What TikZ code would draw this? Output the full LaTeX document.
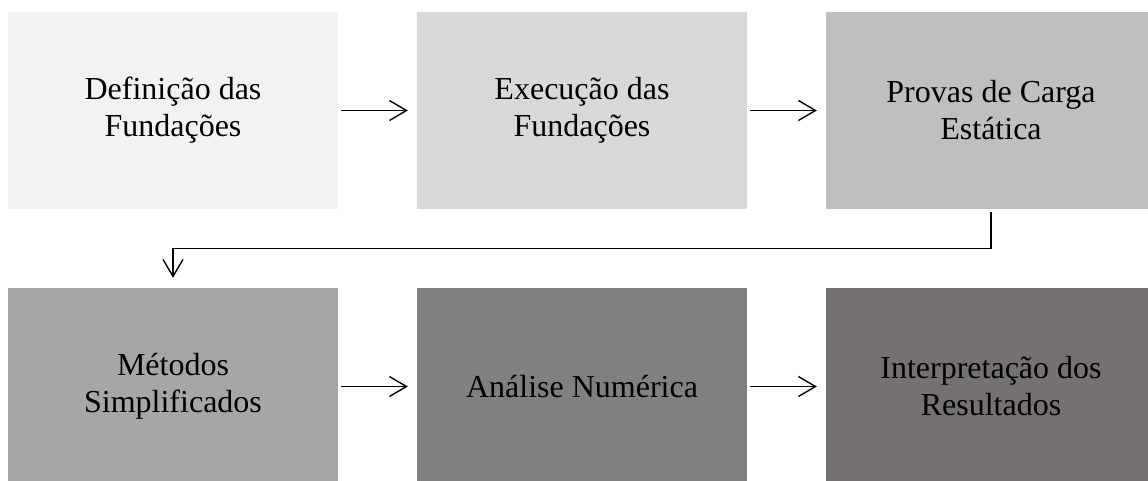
\documentclass[tikz,border=0pt]{standalone}
\usepackage{fontspec}
\setmainfont{Liberation Serif}
\usetikzlibrary{arrows.meta}
\definecolor{c1}{HTML}{F2F2F2}
\definecolor{c2}{HTML}{D9D9D9}
\definecolor{c3}{HTML}{BFBFBF}
\definecolor{c4}{HTML}{A6A6A6}
\definecolor{c5}{HTML}{808080}
\definecolor{c6}{HTML}{767171}
\begin{document}
\begin{tikzpicture}[x=1pt,y=-1pt,
  box/.style={draw=none,minimum width=330pt,minimum height=197pt,inner sep=0pt,
    align=center,font=\fontsize{32}{37}\selectfont},
  arr/.style={line width=1.4pt,-{Straight Barb[length=17pt,width=20pt,line width=1.4pt]}}]
\useasboundingbox (0,0) rectangle (1148,480);
\clip (0,0) rectangle (1148,480);
\fill[white] (0,0) rectangle (1148,480);
\node[box,fill=c1] (n1) at (173,110.5) {Definição das\\Fundações};
\node[box,fill=c2] (n2) at (582,110.5) {Execução das\\Fundações};
\node[box,fill=c3] (n3) at (991,110.5) {Provas de Carga\\Estática};
\node[box,fill=c4] (n4) at (173,386.5) {Métodos\\Simplificados};
\node[box,fill=c5] (n5) at (582,386.5) {Análise Numérica};
\node[box,fill=c6] (n6) at (991,386.5) {Interpretação dos\\Resultados};
\draw[arr] ([xshift=3pt]n1.east) -- ([xshift=-9pt]n2.west);
\draw[arr] ([xshift=3pt]n2.east) -- ([xshift=-9pt]n3.west);
\draw[arr] ([xshift=3pt]n4.east) -- ([xshift=-9pt]n5.west);
\draw[arr] ([xshift=3pt]n5.east) -- ([xshift=-9pt]n6.west);
\draw[arr] ([yshift=-3pt]n3.south) -- ++(0,36) -| ([yshift=10pt]n4.north);
\end{tikzpicture}
\end{document}
